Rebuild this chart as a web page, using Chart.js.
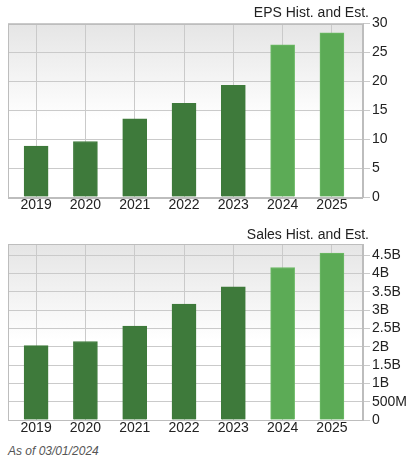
<!DOCTYPE html>
<html lang="en">
<head>
  <meta charset="UTF-8" />
  <meta name="viewport" content="width=device-width, initial-scale=1.0" />
  <title>EPS and Sales Hist. and Est.</title>
  <script src="https://cdn.jsdelivr.net/npm/chart.js"></script>

  <style>
    body {
      margin: 0;
      width: 411px;
      height: 467px;
      background: #ffffff;
      font-family: "Liberation Sans", Arial, sans-serif;
      position: relative;
      overflow: hidden;
    }

    .chart-box {
      position: absolute;
      left: 0;
      width: 411px;
    }

    .chart-title {
      position: absolute;
      right: 42px;
      font-size: 14px;
      line-height: 16px;
      color: #222;
      white-space: nowrap;
      z-index: 2;
    }

    #asOf {
      position: absolute;
      left: 8px;
      top: 444px;
      font-size: 12px;
      line-height: 14px;
      font-style: italic;
      color: #555;
    }
  </style>
</head>

<body>

<div class="chart-title" style="top: 4px;">EPS Hist. and Est.</div>
<div class="chart-box" style="top: 0; height: 218px;">
  <canvas id="epsChart"></canvas>
</div>

<div class="chart-title" style="top: 226px;">Sales Hist. and Est.</div>
<div class="chart-box" style="top: 220px; height: 221px;">
  <canvas id="salesChart"></canvas>
</div>

<div id="asOf">As of 03/01/2024</div>

<script>
  // data
  const years = [2019, 2020, 2021, 2022, 2023, 2024, 2025];
  const firstEstimateYear = 2024;
  const epsValues = [8.8, 9.6, 13.5, 16.2, 19.3, 26.3, 28.4];
  const salesValues = [2.03e9, 2.14e9, 2.56e9, 3.16e9, 3.63e9, 4.16e9, 4.55e9];
  const epsTicks = [0, 5, 10, 15, 20, 25, 30];
  const salesTicks = [0, 5e8, 1e9, 1.5e9, 2e9, 2.5e9, 3e9, 3.5e9, 4e9, 4.5e9];
  const salesTickLabels = ['0', '500M', '1B', '1.5B', '2B', '2.5B', '3B', '3.5B', '4B', '4.5B'];

  const histColor = '#3e7a3b';
  const estColor = '#5cab56';
  const estBorder = '#6cba65';
  const gridColor = '#cacaca';
  const frameColor = '#bdbdbd';

  Chart.defaults.font.family = '"Liberation Sans", Arial, sans-serif';
  Chart.defaults.font.size = 14;
  Chart.defaults.color = '#222';

  // grey-to-white fill and box round the plot area
  const plotFrame = {
    id: 'plotFrame',
    beforeDraw(chart) {
      const { ctx, chartArea: a } = chart;
      const g = ctx.createLinearGradient(0, a.top, 0, a.top + a.height * 0.55);
      g.addColorStop(0, '#e5e5e5');
      g.addColorStop(1, '#ffffff');
      ctx.save();
      ctx.fillStyle = g;
      ctx.fillRect(a.left, a.top, a.width, a.height);
      ctx.restore();
    },
    beforeDatasetsDraw(chart) {
      const { ctx, chartArea: a } = chart;
      ctx.save();
      ctx.strokeStyle = frameColor;
      ctx.lineWidth = 1;
      ctx.strokeRect(Math.round(a.left) + 0.5, Math.round(a.top) + 0.5,
        Math.round(a.width) - 1, Math.round(a.height));
      ctx.restore();
    }
  };

  function makeChart(canvasId, values, yMax, yTicks, tickLabel, padTop) {
    const ctx = document.getElementById(canvasId).getContext('2d');
    return new Chart(ctx, {
      type: 'bar',
      data: {
        datasets: [{
          data: years.map((y, i) => ({ x: y, y: values[i] })),
          backgroundColor: years.map(y => y >= firstEstimateYear ? estColor : histColor),
          borderColor: years.map(y => y >= firstEstimateYear ? estBorder : histColor),
          borderWidth: 1,
          barThickness: 24
        }]
      },
      options: {
        responsive: true,
        maintainAspectRatio: false,
        animation: false,
        layout: { padding: { left: 8, top: padTop, right: 0, bottom: 0 } },
        plugins: {
          legend: { display: false },
          tooltip: { enabled: false }
        },
        scales: {
          x: {
            type: 'linear',
            offset: false,
            min: 2018.43,
            max: 2025.63,
            afterBuildTicks: scale => { scale.ticks = years.map(v => ({ value: v })); },
            afterFit: scale => { scale.height = 21; },
            grid: { color: gridColor, drawTicks: false, offset: false },
            border: { display: true, color: frameColor },
            ticks: {
              padding: 0,
              autoSkip: false,
              maxRotation: 0,
              callback: v => String(v)
            }
          },
          y: {
            position: 'right',
            min: 0,
            max: yMax,
            afterBuildTicks: scale => { scale.ticks = yTicks.map(v => ({ value: v })); },
            afterFit: scale => { scale.width = 48; },
            grid: { color: gridColor, tickLength: 7 },
            border: { display: true, color: frameColor },
            ticks: {
              padding: 2,
              autoSkip: false,
              callback: tickLabel
            }
          }
        }
      },
      plugins: [plotFrame]
    });
  }

  const epsChart = makeChart('epsChart', epsValues, 30, epsTicks, v => String(v), 23.5);
  const salesChart = makeChart('salesChart', salesValues, 4.8e9, salesTicks,
    v => salesTickLabels[salesTicks.indexOf(v)], 24);
</script>

</body>
</html>
